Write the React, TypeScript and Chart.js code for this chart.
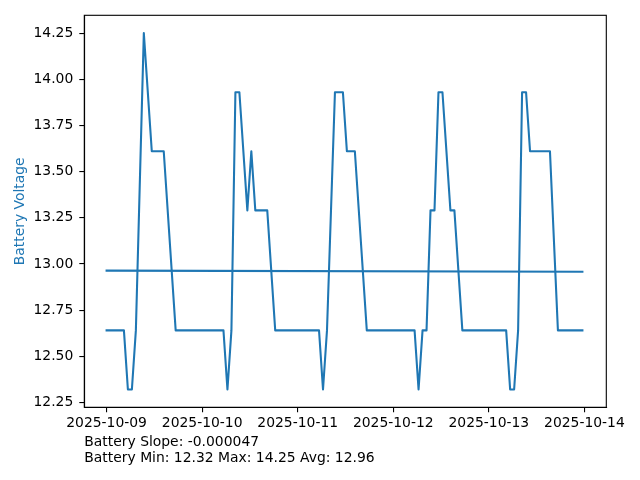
import React, { useEffect, useRef } from "react";
import { Chart, registerables } from "chart.js";

Chart.register(...registerables);

// Hours since 2025-10-09 00:00
const TIMES = [
  0.0, 4.35, 5.35, 6.35, 7.35, 9.35, 11.35, 14.35, 17.35,
  29.35, 30.35, 31.35, 32.35, 33.35, 35.35, 36.35, 37.35, 40.35, 42.35,
  53.35, 54.35, 55.35, 57.35, 59.35, 60.35, 62.35, 65.35,
  77.35, 78.35, 79.35, 80.35, 81.35, 82.35, 83.35, 84.35, 86.35, 87.35, 89.35,
  100.35, 101.35, 102.35, 103.35, 104.35, 105.35, 106.35, 111.35, 113.35, 119.5,
];
const VOLTAGES = [
  12.64, 12.64, 12.32, 12.32, 12.64, 14.25, 13.61, 13.61, 12.64,
  12.64, 12.32, 12.64, 13.93, 13.93, 13.29, 13.61, 13.29, 13.29, 12.64,
  12.64, 12.32, 12.64, 13.93, 13.93, 13.61, 13.61, 12.64,
  12.64, 12.32, 12.64, 12.64, 13.29, 13.29, 13.93, 13.93, 13.29, 13.29, 12.64,
  12.64, 12.32, 12.32, 12.64, 13.93, 13.93, 13.61, 13.61, 12.64, 12.64,
];
const TREND_TIMES = [0.0, 119.5];
const TREND_VALUES = [12.9635, 12.958];

const X_TICK_HOURS = [0, 24, 48, 72, 96, 120];
const X_TICK_LABELS = [
  "2025-10-09", "2025-10-10", "2025-10-11", "2025-10-12", "2025-10-13", "2025-10-14",
];
const Y_TICKS = [12.25, 12.5, 12.75, 13.0, 13.25, 13.5, 13.75, 14.0, 14.25];
const Y_TITLE = "Battery Voltage";
const SUMMARY_LINES = [
  "Battery Slope: -0.000047",
  "Battery Min: 12.32 Max: 14.25 Avg: 12.96",
];

const BLUE = "#1f77b4";
const FONT_FAMILY = "'DejaVu Sans', sans-serif";
const FONT_SIZE = 13.9;

const framePlugin = {
  id: "frame",
  afterDraw(chart: any) {
    const { ctx, chartArea } = chart;
    ctx.save();
    ctx.strokeStyle = "#000";
    ctx.lineWidth = 1.1;
    ctx.strokeRect(
      chartArea.left,
      chartArea.top,
      chartArea.right - chartArea.left,
      chartArea.bottom - chartArea.top
    );
    ctx.fillStyle = "#000";
    ctx.font = `${FONT_SIZE}px ${FONT_FAMILY}`;
    ctx.textAlign = "left";
    ctx.textBaseline = "alphabetic";
    ctx.fillText(SUMMARY_LINES[0], chartArea.left, 446);
    ctx.fillText(SUMMARY_LINES[1], chartArea.left, 462);
    ctx.restore();
  },
};

export default function App() {
  const ref = useRef<HTMLCanvasElement | null>(null);

  useEffect(() => {
    if (!ref.current) return;
    const font = { family: FONT_FAMILY, size: FONT_SIZE };
    const chart = new Chart(ref.current, {
      type: "line",
      data: {
        datasets: [
          {
            data: TIMES.map((t, i) => ({ x: t, y: VOLTAGES[i] })),
            borderColor: BLUE,
            borderWidth: 2.08,
            pointRadius: 0,
            tension: 0,
            fill: false,
            borderCapStyle: "square",
            borderJoinStyle: "round",
          },
          {
            data: TREND_TIMES.map((t, i) => ({ x: t, y: TREND_VALUES[i] })),
            borderColor: BLUE,
            borderWidth: 2.08,
            pointRadius: 0,
            tension: 0,
            fill: false,
            borderCapStyle: "square",
          },
        ],
      },
      options: {
        responsive: false,
        animation: false,
        devicePixelRatio: 1,
        layout: { padding: { left: 0, right: 33.7, top: 15.3, bottom: 32.7 } },
        plugins: { legend: { display: false }, tooltip: { enabled: false } },
        scales: {
          x: {
            type: "linear",
            min: -5.6,
            max: 125.5,
            afterBuildTicks: (s: any) => {
              s.ticks = X_TICK_HOURS.map((v) => ({ value: v }));
            },
            afterFit: (s: any) => {
              s.height = 40;
            },
            ticks: {
              font,
              color: "#000",
              padding: 3,
              maxRotation: 0,
              autoSkip: false,
              callback: (v: any) => {
                const i = X_TICK_HOURS.indexOf(Number(v));
                return i >= 0 ? X_TICK_LABELS[i] : "";
              },
            },
            grid: {
              drawOnChartArea: false,
              drawTicks: true,
              tickLength: 5,
              color: "#000",
              lineWidth: 1.1,
            },
            border: { display: true, color: "#000", width: 1.1 },
          },
          y: {
            type: "linear",
            min: 12.2235,
            max: 14.3465,
            afterBuildTicks: (s: any) => {
              s.ticks = Y_TICKS.map((v) => ({ value: v }));
            },
            afterFit: (s: any) => {
              s.width = 84.3;
            },
            ticks: {
              font,
              color: "#000",
              padding: 6,
              callback: (v: any) => Number(v).toFixed(2),
            },
            grid: {
              drawOnChartArea: false,
              drawTicks: true,
              tickLength: 5,
              color: "#000",
              lineWidth: 1.1,
            },
            border: { display: true, color: "#000", width: 1.1 },
            title: {
              display: true,
              text: Y_TITLE,
              color: BLUE,
              font,
              padding: { top: 12, bottom: 0 },
            },
          },
        },
      },
      plugins: [framePlugin],
    } as any);
    return () => chart.destroy();
  }, []);

  return (
    <div style={{ position: "fixed", left: 0, top: 0, width: 640, height: 480, background: "#fff" }}>
      <canvas ref={ref} width={640} height={480} style={{ display: "block", width: 640, height: 480 }} />
    </div>
  );
}
